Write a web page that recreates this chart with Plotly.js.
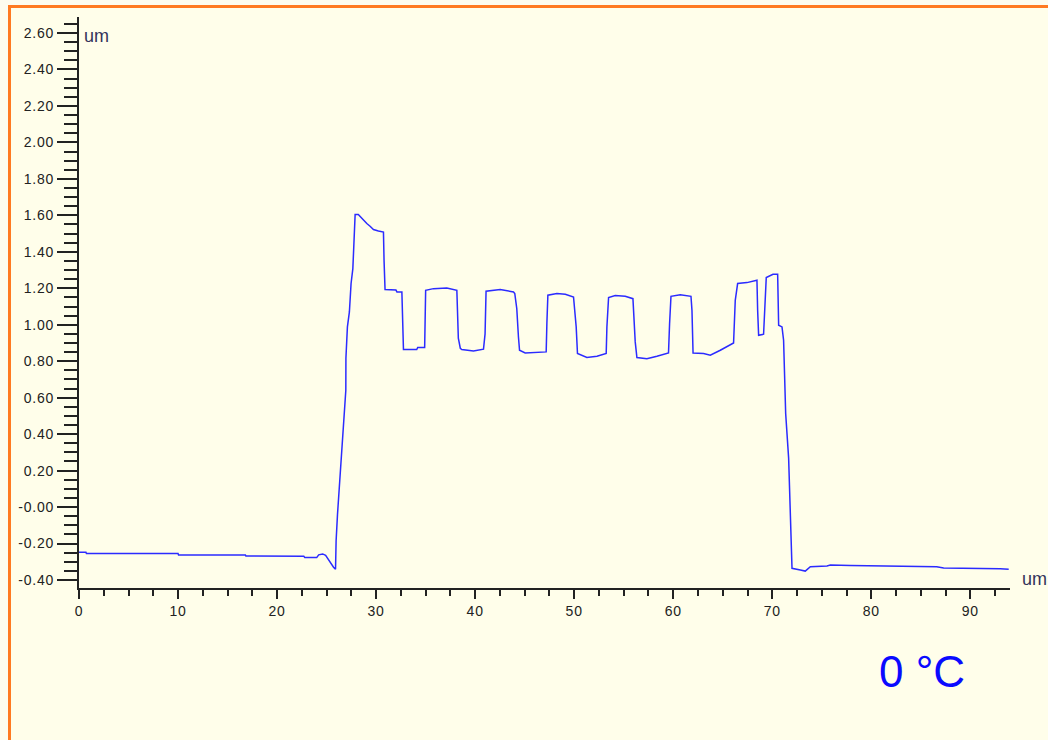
<!DOCTYPE html>
<html>
<head>
<meta charset="utf-8">
<script src="https://cdn.plot.ly/plotly-3.0.1.min.js"></script>
<style>
  html, body { margin: 0; padding: 0; background: #fdfcef; }
  #frame { position: absolute; left: 8px; top: 5px; width: 1045px; height: 740px;
           border-left: 3px solid #ff7a22; border-top: 3px solid #ff7a22; background: #fffeea; }
  #chart { position: absolute; left: 0; top: 0; width: 1048px; height: 740px; }
  .xtick text, .ytick text { letter-spacing: 0.8px; }
</style>
</head>
<body>
<div id="frame"></div>
<div id="chart"></div>
<script>
// Profile position (um)
const xPos = [0, 0.7, 0.75, 10.0, 10.05, 16.8, 16.85, 22.7, 22.8, 24.0, 24.2, 24.6, 24.9, 25.3, 25.7, 25.9,
  25.96, 26.1, 26.4, 26.67, 26.94, 26.95, 27.1, 27.3, 27.47, 27.65, 27.75, 27.88, 28.2, 28.38, 29.06, 29.39,
  29.73, 30.23, 30.74, 30.8, 30.9, 32.0, 32.1, 32.6, 32.7, 32.76, 34.1, 34.2, 34.9, 35.0, 35.79, 37.14, 38.15,
  38.3, 38.5, 38.65, 39.83, 40.84, 41.0, 41.1, 42.53, 43.87, 44.0, 44.2, 44.37, 44.48, 45.05, 46.9, 47.17,
  47.24, 47.34, 48.25, 49.1, 49.93, 50.2, 50.33, 51.28, 52.3, 53.23, 53.3, 53.47, 54.14, 55.15, 55.93, 55.99,
  56.16, 56.33, 57.34, 58.35, 59.52, 59.63, 59.77, 60.71, 61.79, 61.89, 62.0, 63.06, 63.74, 64.75, 66.09,
  66.26, 66.5, 67.44, 68.45, 68.52, 68.62, 69.12, 69.19, 69.39, 70.07, 70.54, 70.64, 70.98, 71.14, 71.25,
  71.35, 71.65, 71.75, 71.89, 71.99, 72.83, 73.33, 73.84, 75.52, 75.86, 76.87, 77.9, 86.6, 87.3, 93.0, 93.87];
// Profile height (um)
const height = [-0.248, -0.248, -0.255, -0.255, -0.263, -0.263, -0.268, -0.270, -0.277, -0.277, -0.262, -0.257,
  -0.265, -0.300, -0.330, -0.341, -0.185, -0.04, 0.2, 0.40, 0.641, 0.816, 0.988, 1.07, 1.226, 1.308, 1.454,
  1.605, 1.605, 1.594, 1.555, 1.54, 1.522, 1.514, 1.508, 1.353, 1.193, 1.19, 1.18, 1.18, 1.025, 0.864, 0.864,
  0.875, 0.875, 1.189, 1.198, 1.202, 1.189, 0.926, 0.871, 0.864, 0.856, 0.866, 0.95, 1.184, 1.193, 1.18,
  1.171, 1.089, 0.933, 0.86, 0.845, 0.848, 0.851, 1.007, 1.162, 1.171, 1.167, 1.152, 0.988, 0.842, 0.820,
  0.827, 0.842, 0.988, 1.149, 1.16, 1.156, 1.143, 1.061, 0.906, 0.82, 0.813, 0.827, 0.845, 1.007, 1.156,
  1.165, 1.156, 1.079, 0.845, 0.842, 0.833, 0.86, 0.9, 1.134, 1.226, 1.231, 1.244, 1.079, 0.942, 0.948,
  1.025, 1.259, 1.277, 1.277, 0.997, 0.988, 0.915, 0.751, 0.513, 0.267, 0.102, -0.153, -0.336, -0.345,
  -0.351, -0.327, -0.323, -0.318, -0.318, -0.321, -0.327, -0.334, -0.338, -0.341];

const xTickVals = [0, 10, 20, 30, 40, 50, 60, 70, 80, 90];
const xTickText = ["0", "10", "20", "30", "40", "50", "60", "70", "80", "90"];
const yTickVals = [2.6, 2.4, 2.2, 2.0, 1.8, 1.6, 1.4, 1.2, 1.0, 0.8, 0.6, 0.4, 0.2, 0, -0.2, -0.4];
const yTickText = ["2.60", "2.40", "2.20", "2.00", "1.80", "1.60", "1.40", "1.20", "1.00", "0.80", "0.60",
  "0.40", "0.20", "-0.00", "-0.20", "-0.40"];
const unitLabel = "um";
const tempLabel = "0 °C";

const trace = {
  x: xPos, y: height, type: "scatter", mode: "lines",
  line: { color: "#2b2bff", width: 1.5 }, hoverinfo: "skip"
};

const tickFont = { family: "Liberation Sans, Arial, sans-serif", size: 14, color: "#222222" };

const layout = {
  width: 1048, height: 740,
  margin: { l: 79, r: 38, t: 17, b: 152, pad: 0 },
  paper_bgcolor: "rgba(0,0,0,0)", plot_bgcolor: "rgba(0,0,0,0)",
  showlegend: false,
  xaxis: {
    range: [0, 94.0], showgrid: false, zeroline: false,
    showline: true, linecolor: "#222222", linewidth: 2,
    tickmode: "array", tickvals: xTickVals, ticktext: xTickText,
    ticks: "outside", ticklen: 9, tickwidth: 2, tickcolor: "#222222",
    minor: { dtick: 2.5, tick0: 0, ticks: "outside", ticklen: 6, tickwidth: 2, tickcolor: "#222222", showgrid: false },
    tickfont: tickFont
  },
  yaxis: {
    range: [-0.4438, 2.6877], showgrid: false, zeroline: false,
    showline: true, linecolor: "#222222", linewidth: 2,
    tickmode: "array", tickvals: yTickVals, ticktext: yTickText,
    ticks: "outside", ticklen: 20, tickwidth: 2, tickcolor: "#222222",
    minor: { dtick: 0.05, tick0: 0, ticks: "outside", ticklen: 13, tickwidth: 2, tickcolor: "#222222", showgrid: false },
    tickfont: tickFont
  },
  annotations: [
    { text: unitLabel, xref: "paper", yref: "paper", x: 0.003, y: 0.966, xanchor: "left", yanchor: "middle",
      showarrow: false, font: { family: "Liberation Sans, Arial, sans-serif", size: 18, color: "#33335a" } },
    { text: unitLabel, xref: "paper", yref: "paper", x: 1.011, y: 0.016, xanchor: "left", yanchor: "middle",
      showarrow: false, font: { family: "Liberation Sans, Arial, sans-serif", size: 18, color: "#33335a" } },
    { text: tempLabel, xref: "paper", yref: "paper", x: 0.905, y: -0.146, xanchor: "center", yanchor: "middle",
      showarrow: false, font: { family: "Liberation Sans, Arial, sans-serif", size: 44, color: "#0a0aff" } }
  ]
};

Plotly.newPlot("chart", [trace], layout, { staticPlot: true, displayModeBar: false });
</script>
</body>
</html>
